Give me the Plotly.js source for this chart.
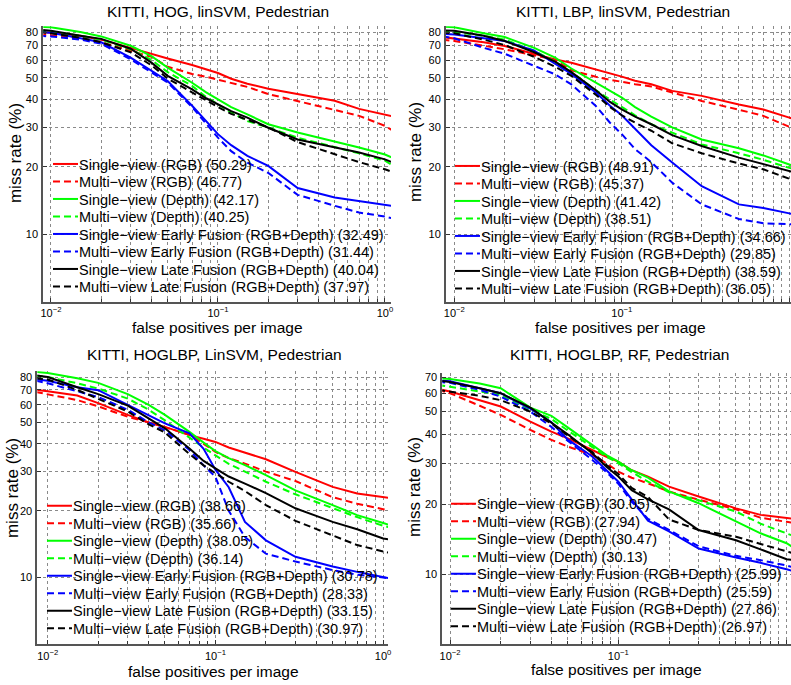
<!DOCTYPE html>
<html><head><meta charset="utf-8">
<script src="https://cdn.plot.ly/plotly-3.0.1.min.js"></script>
<style>html,body{margin:0;padding:0;background:#fff;} #chart{width:791px;height:685px;}</style>
</head><body><div id="chart"></div>
<script>
// ---------- data ----------
const FPPI = [0.0085,0.01,0.015,0.02,0.03,0.04,0.05,0.07,0.085,0.1,0.12,0.15,0.2,0.3,0.5,0.7,1.0,1.1];

const SERIES_NAMES = ['Single−view (RGB)','Multi−view (RGB)','Single−view (Depth)','Multi−view (Depth)',
  'Single−view Early Fusion (RGB+Depth)','Multi−view Early Fusion (RGB+Depth)',
  'Single−view Late Fusion (RGB+Depth)','Multi−view Late Fusion (RGB+Depth)'];
const PANEL_TITLES = ['KITTI, HOG, linSVM, Pedestrian','KITTI, LBP, linSVM, Pedestrian',
  'KITTI, HOGLBP, LinSVM, Pedestrian','KITTI, HOGLBP, RF, Pedestrian'];
const X_TICK_VALUES = [0.01,0.1,1];
const X_TICK_TEXT = ['10<sup>−2</sup>','10<sup>−1</sup>','10<sup>0</sup>'];
const X_MINOR_VALUES = [0.02,0.03,0.04,0.05,0.06,0.07,0.08,0.09,0.2,0.3,0.4,0.5,0.6,0.7,0.8,0.9];
const Y_TICKS_A = [10,20,30,40,50,60,70,80];
const Y_TICKS_B = [10,20,30,40,50,60,70];

// HOG, linSVM
const HOG_SCORES = [50.29,46.77,42.17,40.25,32.49,31.44,40.04,37.97];
const hog_rgb_sv   = [80,79.5,77,74,68,63.7,61,57,54.5,52.5,49.5,47,44.7,42.2,39.5,36.3,34.3,33.7];
const hog_rgb_mv   = [78,77.5,74.5,72,66,62,56,52,50.5,49,47.5,45.5,42.3,39.4,36.1,33.8,30.5,29.2];
const hog_depth_sv = [84.5,84,80,76.5,69.5,62.5,55.5,47.5,43,40,37,34.3,31,28.5,26,24.4,22.7,22];
const hog_depth_mv = [81,80.5,77,74,67,60,53,46,41,38,35,32,30,27,24.5,23,21.3,20.4];
const hog_early_sv = [80,79.5,75,72,61.5,53.6,48.4,37.5,32,28,25,22.4,20.2,16.1,14.6,14.1,13.6,13.4];
const hog_early_mv = [77,76.5,74,71,60.4,52.6,47.6,37,31,27,23.5,20.9,18.8,15,13.4,12.5,12.0,11.8];
const hog_late_sv  = [82,81,77,74.6,67.4,58.4,51,44.4,40.5,38,35.5,33.2,29.9,26.5,24.4,23.2,21.6,21];
const hog_late_mv  = [80,79,75.5,72,65,56.8,49.6,43,39.5,37,34.5,32.5,30,25.8,22.7,21,19.5,19];

// LBP, linSVM
const LBP_SCORES = [48.91,45.37,41.42,38.51,34.66,29.85,38.59,36.05];
const lbp_rgb_sv   = [76,75,72,69.3,64,60.4,58.3,54.5,52.5,50.6,48.5,46.8,43.7,41.5,38.0,36.1,33.2,32.5];
const lbp_rgb_mv   = [74,73,69.5,67,63,60,54,50.5,49,47.8,46.8,45.7,43,39.4,36,33.8,30.2,29.5];
const lbp_depth_sv = [84.5,84,79,76,68,61.5,55,47.6,43.5,40.8,37,33.5,30,26.5,24.2,22.5,20.5,20];
const lbp_depth_mv = [80.5,80,77,74,66,59,53,44,40,37,34,31,28.5,25.2,23,21.5,19.8,19.4];
const lbp_early_sv = [78.5,78,75,73,66,58,52,43,37.5,34,29.5,25,20.9,16.4,13.6,13.1,12.4,12.2];
const lbp_early_mv = [76.5,75,68,64,56.5,51.8,46.7,37.4,31.5,28,24,21,17,13.6,11.7,11.2,11.1,11];
const lbp_late_sv  = [81.5,81,77,73,65,59,53,44,39,36.1,33.5,31,27.7,24.8,22,20.6,19.1,18.8];
const lbp_late_mv  = [79.5,79,74,70,62,56,51,42,37,34,31.5,29,25.5,23,20.7,19.5,17.7,17.3];

// HOGLBP, LinSVM
const HOGLBP_SVM_SCORES = [38.66,35.66,38.05,36.14,30.78,28.33,33.15,30.97];
const hl_svm_rgb_sv   = [70,69,66,61,54,50,47.7,43.8,42.2,40.8,38.5,36.4,34.1,29.9,25.6,23.9,23.1,22.8];
const hl_svm_rgb_mv   = [68.5,67,63,59,53,50,47.5,44,40,36.8,34.5,32.6,30,27.2,23,21.5,20.3,20];
const hl_svm_depth_sv = [84.5,83.5,79,75.3,67,60,54,45.3,40.5,37.1,34.5,32.1,28.9,24.7,21.2,19.1,17.6,17.2];
const hl_svm_depth_mv = [81,80,75,71,64,57,51,42.5,38.5,35.5,32.5,30,27,23.7,20.5,18.7,17.1,16.8];
const hl_svm_early_sv = [78,77,72,69.8,60,54,49.5,44.6,38,30.6,25.5,17.8,14.7,12.4,11.2,10.6,10.0,9.9];
const hl_svm_early_mv = [77,75,69,65,57,50,46,37.5,32,28.4,20,15.2,12.8,11.8,10.8,10.3,10.0,9.9];
const hl_svm_late_sv  = [81.5,80,72,67,59.5,52,47,38.1,33.5,31,28.5,26.5,24,20.5,17.8,16.5,15,14.8];
const hl_svm_late_mv  = [79,78,70,64,56,49,45,36,32,29.5,27,24.5,21.2,18,15.5,14,13.1,12.9];

// HOGLBP, RF
const HOGLBP_RF_SCORES = [30.05,27.94,30.47,30.13,25.99,25.59,27.86,26.97];
const hl_rf_rgb_sv   = [62.5,61,56,52.6,45.3,41,38.4,34.2,32,30.5,28,26.3,23.8,21.6,19.2,18,17.4,17.3];
const hl_rf_rgb_mv   = [62,60,53,48.4,41.7,37.8,35.4,32.6,30,27.6,26,24.6,22.7,20.9,19,17.5,16.8,16.6];
const hl_rf_depth_sv = [69.5,69,66,63,52,48,42.8,35.9,32.5,30.5,28,26,22.7,20.2,16.8,15,13.6,13];
const hl_rf_depth_mv = [65,64,61,59,51,46.5,41.5,35,32,30,27.5,25,22.5,20.8,18.6,16.5,15,14.6];
const hl_rf_early_sv = [68,67.5,63,60,51.5,45,38,32.1,28,25,21,17,15.3,12.9,11.8,11.2,10.5,10.3];
const hl_rf_early_mv = [67,66.5,62,58,50,43,37.5,31,27.5,24.5,20.5,17.3,15.5,13.2,12,11.5,10.9,10.7];
const hl_rf_late_sv  = [68,67,63,60,52,45,40,33.1,29,26.3,23,21,19,15.5,14,12.8,11.6,11.5];
const hl_rf_late_mv  = [62,61,58.5,56,50,44.5,39.5,33.5,29.5,27,23.5,21.5,17.2,15.5,14.5,13.5,12.6,12.3];

// ---------- styles ----------
const COLORS = ['#ff0000','#ff0000','#00ff00','#00ff00','#0000ff','#0000ff','#000000','#000000'];
const DASHES = ['solid','7px,4px','solid','7px,4px','solid','7px,4px','solid','7px,4px'];
const FONT = '"Liberation Sans", Arial, Helvetica, sans-serif';

const PANELS = [
  {series:[hog_rgb_sv,hog_rgb_mv,hog_depth_sv,hog_depth_mv,hog_early_sv,hog_early_mv,hog_late_sv,hog_late_mv], scores:HOG_SCORES},
  {series:[lbp_rgb_sv,lbp_rgb_mv,lbp_depth_sv,lbp_depth_mv,lbp_early_sv,lbp_early_mv,lbp_late_sv,lbp_late_mv], scores:LBP_SCORES},
  {series:[hl_svm_rgb_sv,hl_svm_rgb_mv,hl_svm_depth_sv,hl_svm_depth_mv,hl_svm_early_sv,hl_svm_early_mv,hl_svm_late_sv,hl_svm_late_mv], scores:HOGLBP_SVM_SCORES},
  {series:[hl_rf_rgb_sv,hl_rf_rgb_mv,hl_rf_depth_sv,hl_rf_depth_mv,hl_rf_early_sv,hl_rf_early_mv,hl_rf_late_sv,hl_rf_late_mv], scores:HOGLBP_RF_SCORES}
];

// layout geometry (paper fractions)
const GEOM = [
  {xd:[0.0547,0.4943], xr:[-2.046,0.036], yd:[0.5596,0.9618], yr:[Math.log10(5),Math.log10(85)], yt:Y_TICKS_A,
   title:[0.2756,0.9825], xt:[0.2756,0.5212], ytl:[0.019,0.7766], leg:[0.0493,0.7839]},
  {xd:[0.5638,1.0], xr:[-2.0496,0.0101], yd:[0.5596,0.9618], yr:[Math.log10(5),Math.log10(85)], yt:Y_TICKS_A,
   title:[0.7872,0.9825], xt:[0.7845,0.5212], ytl:[0.5247,0.7781], leg:[0.5575,0.781]},
  {xd:[0.0472,0.4905], xr:[-2.062,0.029], yd:[0.0594,0.4581], yr:[Math.log10(5),Math.log10(85)], yt:Y_TICKS_A,
   title:[0.2714,0.4818], xt:[0.2693,0.0194], ytl:[0.0165,0.2876], leg:[0.0417,0.2851]},
  {xd:[0.5592,1.0], xr:[-2.046,0.026], yd:[0.0594,0.4549], yr:[Math.log10(5),Math.log10(73)], yt:Y_TICKS_B,
   title:[0.7826,0.4818], xt:[0.7788,0.0229], ytl:[0.5247,0.2891], leg:[0.5525,0.288]}
];

const traces = [];
const layout = {
  width:791, height:685, margin:{l:0,r:0,t:0,b:0,pad:0,autoexpand:false}, paper_bgcolor:'#fff', plot_bgcolor:'#fff',
  font:{family:FONT, color:'#000'}, showlegend:true, annotations:[]
};

PANELS.forEach((p,i)=>{
  const n = i+1, sx = n===1?'':String(n);
  const g = GEOM[i];
  p.series.forEach((ys,k)=>{
    traces.push({
      type:'scatter', mode:'lines', x:FPPI, y:ys, xaxis:'x'+sx, yaxis:'y'+sx,
      name: SERIES_NAMES[k]+' ('+p.scores[k].toFixed(2)+')',
      legend: n===1?'legend':'legend'+n,
      line:{color:COLORS[k], width:2, dash:DASHES[k]}, hoverinfo:'skip'
    });
  });
  layout['xaxis'+sx] = {
    type:'log', domain:g.xd, range:g.xr, anchor:'y'+sx,
    tickmode:'array', tickvals:X_TICK_VALUES, ticktext:X_TICK_TEXT,
    ticks:'inside', ticklen:4, tickwidth:1, tickcolor:'#333',
    showline:true, linecolor:'#555', linewidth:2, mirror:false, zeroline:false,
    showgrid:true, gridcolor:'#8a8a8a', griddash:'dot', gridwidth:1,
    tickfont:{size:11, family:FONT, color:'#000'},
    minor:{tickmode:'array', tickvals:X_MINOR_VALUES, ticks:'inside', ticklen:3, tickcolor:'#333',
           showgrid:true, gridcolor:'#8a8a8a', griddash:'dot', gridwidth:1},
    automargin:false, fixedrange:true
  };
  layout['yaxis'+sx] = {
    type:'log', domain:g.yd, range:g.yr, anchor:'x'+sx,
    tickmode:'array', tickvals:g.yt, ticktext:g.yt.map(String),
    ticks:'inside', ticklen:4, tickwidth:1, tickcolor:'#333', ticklabelstandoff:1,
    showline:true, linecolor:'#555', linewidth:2, mirror:false, zeroline:false,
    showgrid:true, gridcolor:'#8a8a8a', griddash:'dot', gridwidth:1,
    tickfont:{size:11, family:FONT, color:'#000'}, automargin:false, fixedrange:true
  };
  layout[n===1?'legend':'legend'+n] = {
    x:g.leg[0], y:g.leg[1], xanchor:'left', yanchor:'top', xref:'paper', yref:'paper',
    bgcolor:'rgba(0,0,0,0)', borderwidth:0, itemwidth:30, tracegroupgap:0,
    font:{size:14.5, family:FONT, color:'#000'}, itemclick:false, itemdoubleclick:false
  };
  layout.annotations.push(
    {text:PANEL_TITLES[i], x:g.title[0], y:g.title[1], xref:'paper', yref:'paper', showarrow:false,
     xanchor:'center', yanchor:'middle', font:{size:15.5, family:FONT, color:'#000'}},
    {text:'false positives per image', x:g.xt[0], y:g.xt[1], xref:'paper', yref:'paper', showarrow:false,
     xanchor:'center', yanchor:'middle', font:{size:15.5, family:FONT, color:'#000'}},
    {text:'miss rate (%)', x:g.ytl[0], y:g.ytl[1], xref:'paper', yref:'paper', showarrow:false, textangle:-90,
     xanchor:'center', yanchor:'middle', font:{size:17, family:FONT, color:'#000'}}
  );
});

Plotly.newPlot('chart', traces, layout, {staticPlot:true, displayModeBar:false, responsive:false}).then(gd=>{
  // tighten legend rows and shorten sample lines to MATLAB-like proportions
  ['legend','legend2','legend3','legend4'].forEach(id=>{
    const lg = gd.querySelector('g.'+id);
    if(!lg) return;
    const items = Array.from(lg.querySelectorAll('g.traces'));
    const pos = items.map(it=>{
      const m = /translate\(\s*([-\d.e]+)[ ,]+([-\d.e]+)\s*\)/.exec(it.getAttribute('transform')||'');
      return m ? [parseFloat(m[1]), parseFloat(m[2])] : null;
    });
    if(pos.some(p=>!p) || pos.length<2) return;
    const step = pos[1][1]-pos[0][1];
    const k = 17.5/step;
    items.forEach((it,j)=>{
      it.setAttribute('transform','translate('+pos[j][0]+','+(pos[0][1]+(pos[j][1]-pos[0][1])*k)+')');
      it.querySelectorAll('path.js-line').forEach(pth=>pth.setAttribute('d','M14,0h25'));
    });
  });
});
</script>
</body></html>
